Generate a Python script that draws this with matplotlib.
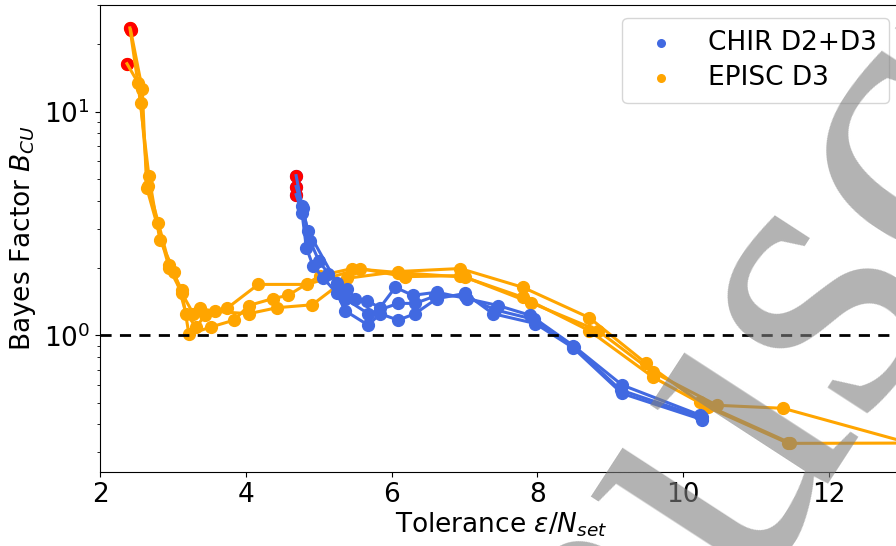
import numpy as np
import matplotlib.pyplot as plt

# CHIR D2+D3 runs (tolerance, Bayes factor), last point is the final generation
chir_x = [
    [10.26, 9.16, 8.49, 7.97, 7.39, 7.01, 6.62, 6.32, 6.09, 5.84, 5.68, 5.36, 5.25, 5.06, 4.92, 4.83, 4.77, 4.69],
    [10.23, 9.16, 8.49, 7.90, 7.46, 7.03, 6.62, 6.29, 6.05, 5.84, 5.66, 5.50, 5.39, 5.13, 5.00, 4.88, 4.77, 4.69],
    [10.25, 9.14, 8.50, 7.95, 7.42, 7.00, 6.60, 6.32, 6.09, 5.68, 5.36, 5.25, 4.85, 4.78, 4.69],
]
chir_y = [
    [0.42, 0.55, 0.88, 1.13, 1.25, 1.54, 1.46, 1.25, 1.17, 1.25, 1.11, 1.29, 1.54, 1.81, 2.05, 2.47, 3.54, 4.26],
    [0.44, 0.60, 0.90, 1.23, 1.36, 1.46, 1.56, 1.51, 1.64, 1.33, 1.43, 1.46, 1.62, 1.89, 2.16, 2.65, 3.80, 5.18],
    [0.43, 0.57, 0.89, 1.18, 1.30, 1.50, 1.50, 1.39, 1.39, 1.25, 1.46, 1.71, 2.94, 3.70, 4.63],
]

# EPISC D3 runs
episc_x = [
    [13.1, 11.37, 10.46, 9.59, 8.83, 7.91, 7.01, 6.09, 5.46, 5.02, 4.58, 4.37, 4.04, 3.84, 3.52, 3.22, 3.12, 2.95, 2.80, 2.66, 2.56, 2.41],
    [13.1, 11.44, 10.34, 9.59, 8.71, 7.80, 6.94, 6.18, 5.57, 4.84, 4.17, 3.74, 3.44, 3.32, 3.18, 3.02, 2.82, 2.67, 2.52, 2.37],
    [11.47, 10.23, 9.49, 8.71, 7.80, 6.94, 6.09, 5.39, 4.91, 4.43, 4.04, 3.58, 3.37, 3.28, 3.12, 2.95, 2.64, 2.58, 2.42],
]
episc_y = [
    [0.33, 0.472, 0.487, 0.684, 1.05, 1.40, 1.82, 1.91, 1.99, 1.85, 1.51, 1.46, 1.36, 1.17, 1.09, 1.01, 1.60, 2.07, 3.19, 4.67, 10.9, 23.7],
    [0.33, 0.329, 0.477, 0.649, 1.05, 1.48, 1.85, 1.83, 1.99, 1.69, 1.69, 1.32, 1.23, 1.09, 1.25, 1.93, 2.68, 5.18, 13.5, 16.4],
    [0.33, 0.502, 0.75, 1.20, 1.64, 1.99, 1.93, 1.80, 1.37, 1.33, 1.25, 1.28, 1.32, 1.25, 1.55, 2.00, 4.58, 12.6, 23.2],
]

plt.rcParams['font.family'] = ['DejaVu Sans']
plt.rcParams['font.size'] = 19

fig = plt.figure(figsize=(8.96, 5.46), dpi=100)
ax = fig.add_axes([100 / 896, 74 / 546, 802 / 896, 467 / 546])

# markers under the lines, last generation in red
for xs, ys in zip(episc_x, episc_y):
    ax.plot(xs, ys, 'o', color='orange', ms=8.5, zorder=2)
    ax.plot(xs[-1], ys[-1], 'o', color='red', ms=8.5, zorder=2.1)
    ax.plot(xs, ys, '-', color='orange', lw=2.2, zorder=2.2)
for xs, ys in zip(chir_x, chir_y):
    ax.plot(xs, ys, 'o', color='royalblue', ms=8.5, zorder=3)
    ax.plot(xs[-1], ys[-1], 'o', color='red', ms=8.5, zorder=3.1)
    ax.plot(xs, ys, '-', color='royalblue', lw=2.2, zorder=3.2)

ax.axhline(1.0, color='black', ls='--', lw=2, dashes=(4, 3), zorder=4)

ax.scatter([], [], s=30, color='royalblue', label='CHIR D2+D3')
ax.scatter([], [], s=30, color='orange', label='EPISC D3')

ax.set_yscale('log')
ax.set_xlim(2, 13)
ax.set_ylim(0.245, 30)
ax.set_xticks([2, 4, 6, 8, 10, 12])
ax.set_xlabel(r'Tolerance $\varepsilon/N_{set}$', labelpad=2)
ax.set_ylabel(r'Bayes Factor $B_{CU}$')
ax.legend(loc='upper right', handlelength=2.0, borderpad=0.45, labelspacing=0.35)

# watermark
fig.text(328 / 896, 1 - 1236 / 546, 'Manuscript', fontsize=300, family='Liberation Serif',
         color='gray', alpha=0.6, rotation=57, rotation_mode='anchor',
         ha='left', va='baseline', zorder=10)

fig.savefig('out.png', dpi=100)
